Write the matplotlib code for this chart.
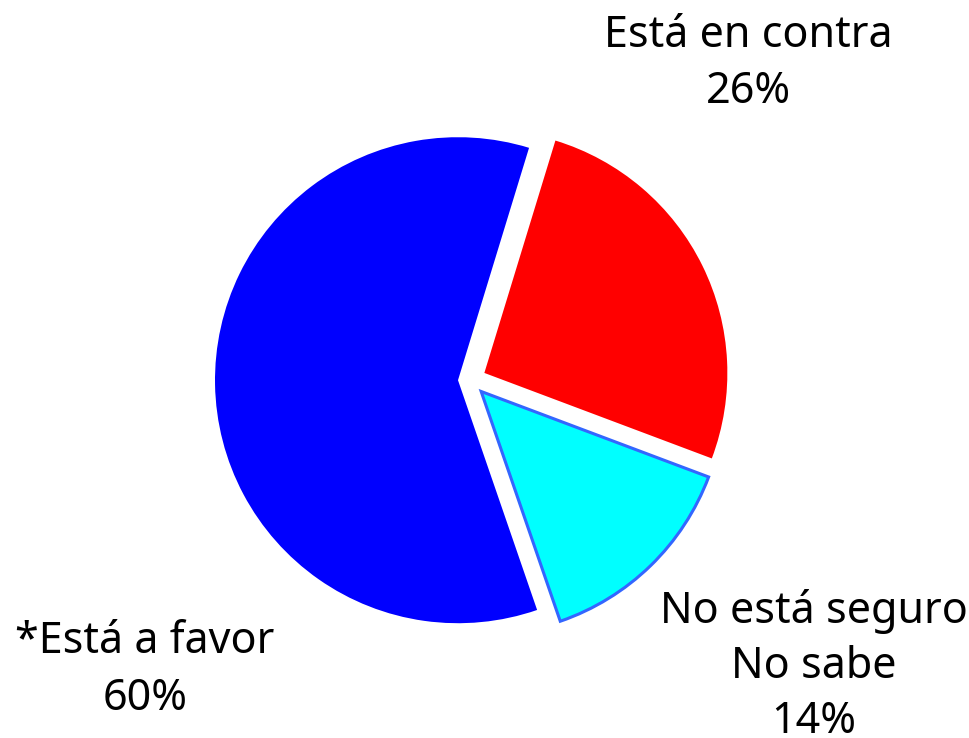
import matplotlib
matplotlib.use("Agg")
import matplotlib.pyplot as plt

categories = ["*Está a favor", "No está seguro\nNo sabe", "Está en contra"]
values = [60, 14, 26]
colors = ["#0000ff", "#00ffff", "#ff0000"]
edge_colors = ["none", "#3366ff", "none"]

W, H = 970, 738
fig = plt.figure(figsize=(W / 100, H / 100), dpi=100)
ax = fig.add_axes([0, 0, 1, 1])

cx, cy, r = 470, H - 380, 243
wedges, _ = ax.pie(values, colors=colors, startangle=73, counterclock=True,
                   explode=[12, 16, 16], center=(cx, cy), radius=r,
                   frame=True)
for w, ec in zip(wedges, edge_colors):
    if ec != "none":
        w.set_edgecolor(ec)
        w.set_linewidth(2.2)
    else:
        w.set_edgecolor("none")
ax.set_xlim(0, W)
ax.set_ylim(0, H)
ax.set_aspect("equal")
ax.axis("off")

font = dict(family="Noto Sans", fontsize=31, color="black", ha="center", va="baseline")
# label anchor: (x center, baseline of first line in pixel from top, line step)
anchors = [(145, 653, 57), (814, 623, 55), (748, 47, 56)]
for cat, v, (x, yb, step) in zip(categories, values, anchors):
    lines = cat.split("\n") + [f"{v}%"]
    for i, ln in enumerate(lines):
        ax.text(x, H - (yb + i * step), ln, **font)

fig.savefig("out.png", dpi=100)
